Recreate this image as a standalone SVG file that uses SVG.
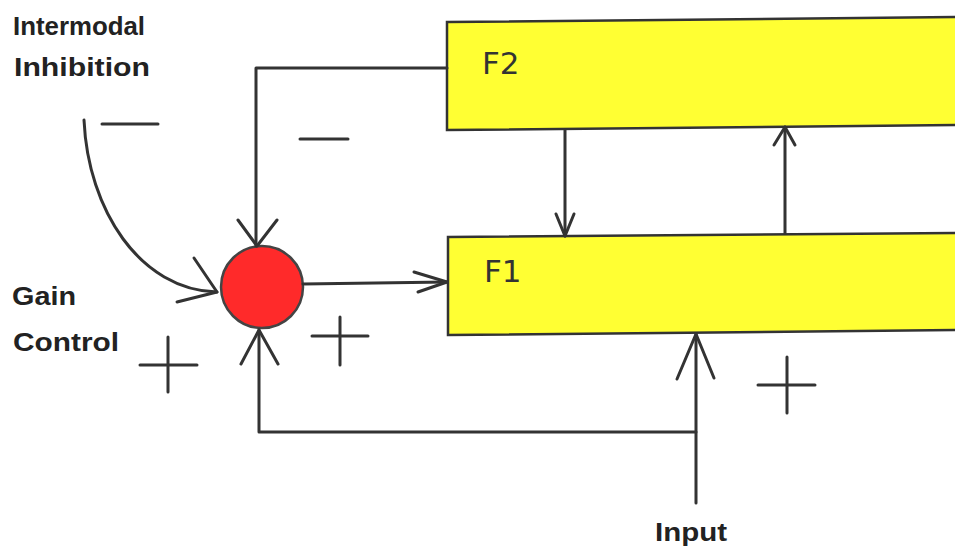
<svg xmlns="http://www.w3.org/2000/svg" width="955" height="546" viewBox="0 0 955 546">
<style>
.ln{fill:none;stroke:#333;stroke-width:3;stroke-linecap:round;stroke-linejoin:round}
.box{fill:#ffff33;stroke:#333;stroke-width:2.5}
.lbl{font-family:"Liberation Sans",Arial,sans-serif;font-weight:bold;font-size:25px;fill:#222}
.bl{font-family:"DejaVu Sans","Liberation Sans",sans-serif;font-size:31px;fill:#333}
.sg{fill:none;stroke:#333;stroke-width:3;stroke-linecap:round}
</style>
<rect width="955" height="546" fill="#fff"/>
<g id="F2">
<polygon class="box" points="447,22 960,17 960,125 447,130"/>
<text class="bl" x="482" y="74">F2</text>
</g>
<g id="F1">
<polygon class="box" points="448,237 960,233 960,330 448,335"/>
<text class="bl" x="484" y="282">F1</text>
</g>
<g id="sum">
<circle cx="262" cy="287" r="41" fill="#ff2a2a" stroke="#444" stroke-width="2.5"/>
</g>
<g id="connectors">
<path class="ln" d="M447,68 H256 V246"/>
<path class="ln" d="M238,220 L257,246 L277,220"/>
<path class="ln" d="M303,284 L447,282"/>
<path class="ln" d="M414,272 L447,282 L418,292"/>
<path class="ln" d="M565,130 V236"/>
<path class="ln" d="M556,214 L565,236 L574,214"/>
<path class="ln" d="M785,233 V127"/>
<path class="ln" d="M774,145 L785,127 L795,145"/>
<path class="ln" d="M696,503 V334"/>
<path class="ln" d="M677,379 L696,334 L714,378"/>
<path class="ln" d="M696,432 H259 V330"/>
<path class="ln" d="M241,364 L259,330 L278,364"/>
<path class="ln" d="M84,120 C88,210 140,290 217,292"/>
<path class="ln" d="M194,258 L217,292 L177,302"/>
</g>
<g id="labels">
<text class="lbl" x="13" y="35" textLength="132" lengthAdjust="spacingAndGlyphs">Intermodal</text>
<text class="lbl" x="14" y="76" textLength="136" lengthAdjust="spacingAndGlyphs">Inhibition</text>
<text class="lbl" x="12" y="305" textLength="64" lengthAdjust="spacingAndGlyphs">Gain</text>
<text class="lbl" x="13" y="351" textLength="106" lengthAdjust="spacingAndGlyphs">Control</text>
<text class="lbl" x="655" y="541" textLength="72" lengthAdjust="spacingAndGlyphs">Input</text>
</g>
<g id="signs">
<path class="sg" d="M102,124 H158"/>
<path class="sg" d="M300,139 H348"/>
<path class="sg" d="M312,336 H368 M340,317 V365"/>
<path class="sg" d="M140,365 H197 M168,337 V392"/>
<path class="sg" d="M758,385 H815 M787,357 V413"/>
</g>
</svg>
